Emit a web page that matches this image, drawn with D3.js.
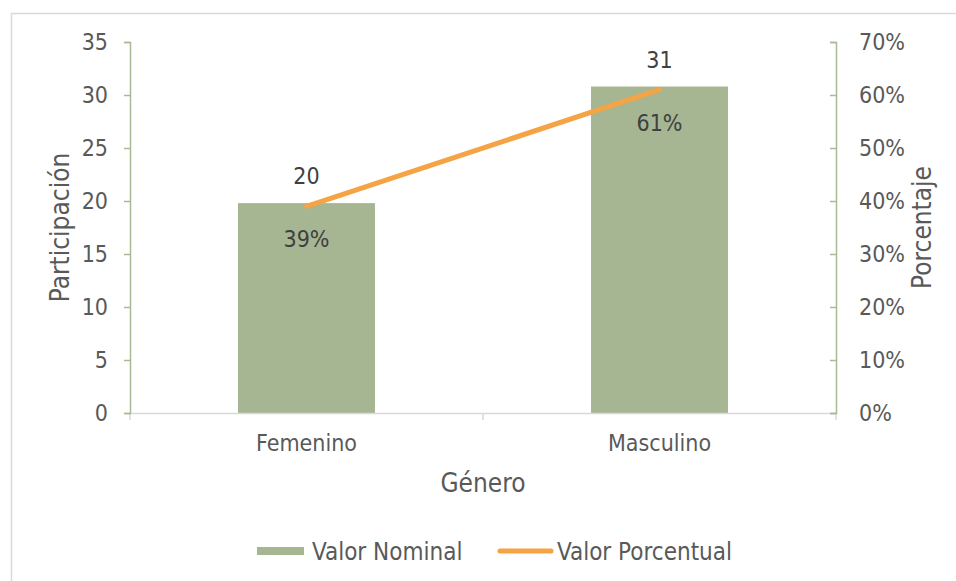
<!DOCTYPE html>
<html>
<head>
<meta charset="utf-8">
<script src="https://cdn.jsdelivr.net/npm/d3@7"></script>
<style>
  body { margin: 0; background: #fff; }
  svg text { font-family: "DejaVu Sans Condensed", "DejaVu Sans", sans-serif; }
</style>
</head>
<body>
<svg id="chart" width="956" height="581"></svg>
<script>
const categories = ['Femenino', 'Masculino'];
const nominal = [19.8, 30.8];
const nominalLabels = ['20', '31'];
const percent = [0.39, 0.61];
const leftTicks = [0, 5, 10, 15, 20, 25, 30, 35];
const rightTicks = [0, 0.1, 0.2, 0.3, 0.4, 0.5, 0.6, 0.7];

const svg = d3.select('#chart');
const m = { left: 130, right: 836, top: 42, bottom: 413 };

const barColor = '#a6b592';
const lineColor = '#f4a345';
const axisGreen = '#a9bb95';
const textColor = '#595959';
const fs = 23;

// chart area border
svg.append('rect')
    .attr('x', 11.5).attr('y', 13.5)
    .attr('width', 1000).attr('height', 1000)
    .attr('fill', 'none')
    .attr('stroke', '#d9d9d9')
    .attr('stroke-width', 1.5);

const x = d3.scaleBand().domain(categories).range([m.left, m.right]);
const yL = d3.scaleLinear().domain([0, 35]).range([m.bottom, m.top]);
const yR = d3.scaleLinear().domain([0, 0.7]).range([m.bottom, m.top]);

const barW = x.bandwidth() * 0.388;
const cx = i => x(categories[i]) + x.bandwidth() / 2;

// bars
svg.selectAll('rect.bar')
    .data(nominal)
    .join('rect')
    .attr('class', 'bar')
    .attr('x', (_, i) => cx(i) - barW / 2)
    .attr('width', barW)
    .attr('y', d => yL(d))
    .attr('height', d => m.bottom - yL(d))
    .attr('fill', barColor);

// bottom axis
const gx = svg.append('g')
    .attr('transform', `translate(0,${m.bottom})`)
    .call(d3.axisBottom(x).tickSize(0).tickPadding(22));
gx.select('.domain').attr('stroke', '#d9d9d9').attr('stroke-width', 1.5);
gx.selectAll('text').attr('fill', textColor).attr('font-size', fs);
const catEdges = [m.left, (m.left + m.right) / 2, m.right];
gx.selectAll('line.sep')
    .data(catEdges)
    .join('line')
    .attr('class', 'sep')
    .attr('x1', d => d).attr('x2', d => d)
    .attr('y1', 0).attr('y2', 7)
    .attr('stroke', '#d9d9d9').attr('stroke-width', 1.5);

// left axis
const gl = svg.append('g')
    .attr('transform', `translate(${m.left},0)`)
    .call(d3.axisLeft(yL).tickValues(leftTicks).tickSize(6).tickSizeOuter(6).tickPadding(16));
gl.select('.domain').attr('stroke', axisGreen).attr('stroke-width', 1.5);
gl.selectAll('.tick line').attr('stroke', axisGreen).attr('stroke-width', 1.5);
gl.selectAll('text').attr('fill', textColor).attr('font-size', fs);

// right axis (ticks point inward, labels outside)
const gr = svg.append('g')
    .attr('transform', `translate(${m.right},0)`)
    .call(d3.axisRight(yR).tickValues(rightTicks).tickFormat(d3.format('.0%')).tickSize(-6).tickSizeOuter(-6).tickPadding(23));
gr.select('.domain').attr('stroke', axisGreen).attr('stroke-width', 1.5);
gr.selectAll('.tick line').attr('stroke', axisGreen).attr('stroke-width', 1.5);
gr.selectAll('text').attr('fill', textColor).attr('font-size', fs);

// percentage line
const line = d3.line()
    .x((_, i) => cx(i))
    .y(d => yR(d));
svg.append('path')
    .datum(percent)
    .attr('d', line)
    .attr('fill', 'none')
    .attr('stroke', lineColor)
    .attr('stroke-width', 5)
    .attr('stroke-linecap', 'round');

// data labels
svg.selectAll('text.nlabel')
    .data(nominal)
    .join('text')
    .attr('class', 'nlabel')
    .attr('x', (_, i) => cx(i))
    .attr('y', d => yL(d) - 19)
    .attr('text-anchor', 'middle')
    .attr('fill', '#404040')
    .attr('font-size', fs)
    .text((_, i) => nominalLabels[i]);

svg.selectAll('text.plabel')
    .data(percent)
    .join('text')
    .attr('class', 'plabel')
    .attr('x', (_, i) => cx(i))
    .attr('y', d => yR(d) + 41)
    .attr('text-anchor', 'middle')
    .attr('fill', '#404040')
    .attr('font-size', fs)
    .text(d => d3.format('.0%')(d));

// axis titles
svg.append('text')
    .attr('transform', `translate(69,${(m.top + m.bottom) / 2}) rotate(-90)`)
    .attr('text-anchor', 'middle')
    .attr('fill', textColor)
    .attr('font-size', 26)
    .text('Participación');

svg.append('text')
    .attr('transform', `translate(931,${(m.top + m.bottom) / 2}) rotate(-90)`)
    .attr('text-anchor', 'middle')
    .attr('fill', textColor)
    .attr('font-size', 26)
    .text('Porcentaje');

svg.append('text')
    .attr('x', (m.left + m.right) / 2)
    .attr('y', 492)
    .attr('text-anchor', 'middle')
    .attr('fill', textColor)
    .attr('font-size', 26)
    .text('Género');

// legend
const lg = svg.append('g').attr('transform', 'translate(257,551)');
lg.append('rect')
    .attr('x', 0).attr('y', -4).attr('width', 47).attr('height', 8)
    .attr('fill', barColor);
lg.append('text')
    .attr('x', 55).attr('y', 9)
    .attr('fill', textColor).attr('font-size', 24)
    .text('Valor Nominal');
lg.append('line')
    .attr('x1', 243).attr('x2', 294).attr('y1', 0).attr('y2', 0)
    .attr('stroke', lineColor).attr('stroke-width', 5).attr('stroke-linecap', 'round');
lg.append('text')
    .attr('x', 300).attr('y', 9)
    .attr('fill', textColor).attr('font-size', 24)
    .text('Valor Porcentual');
</script>
</body>
</html>
